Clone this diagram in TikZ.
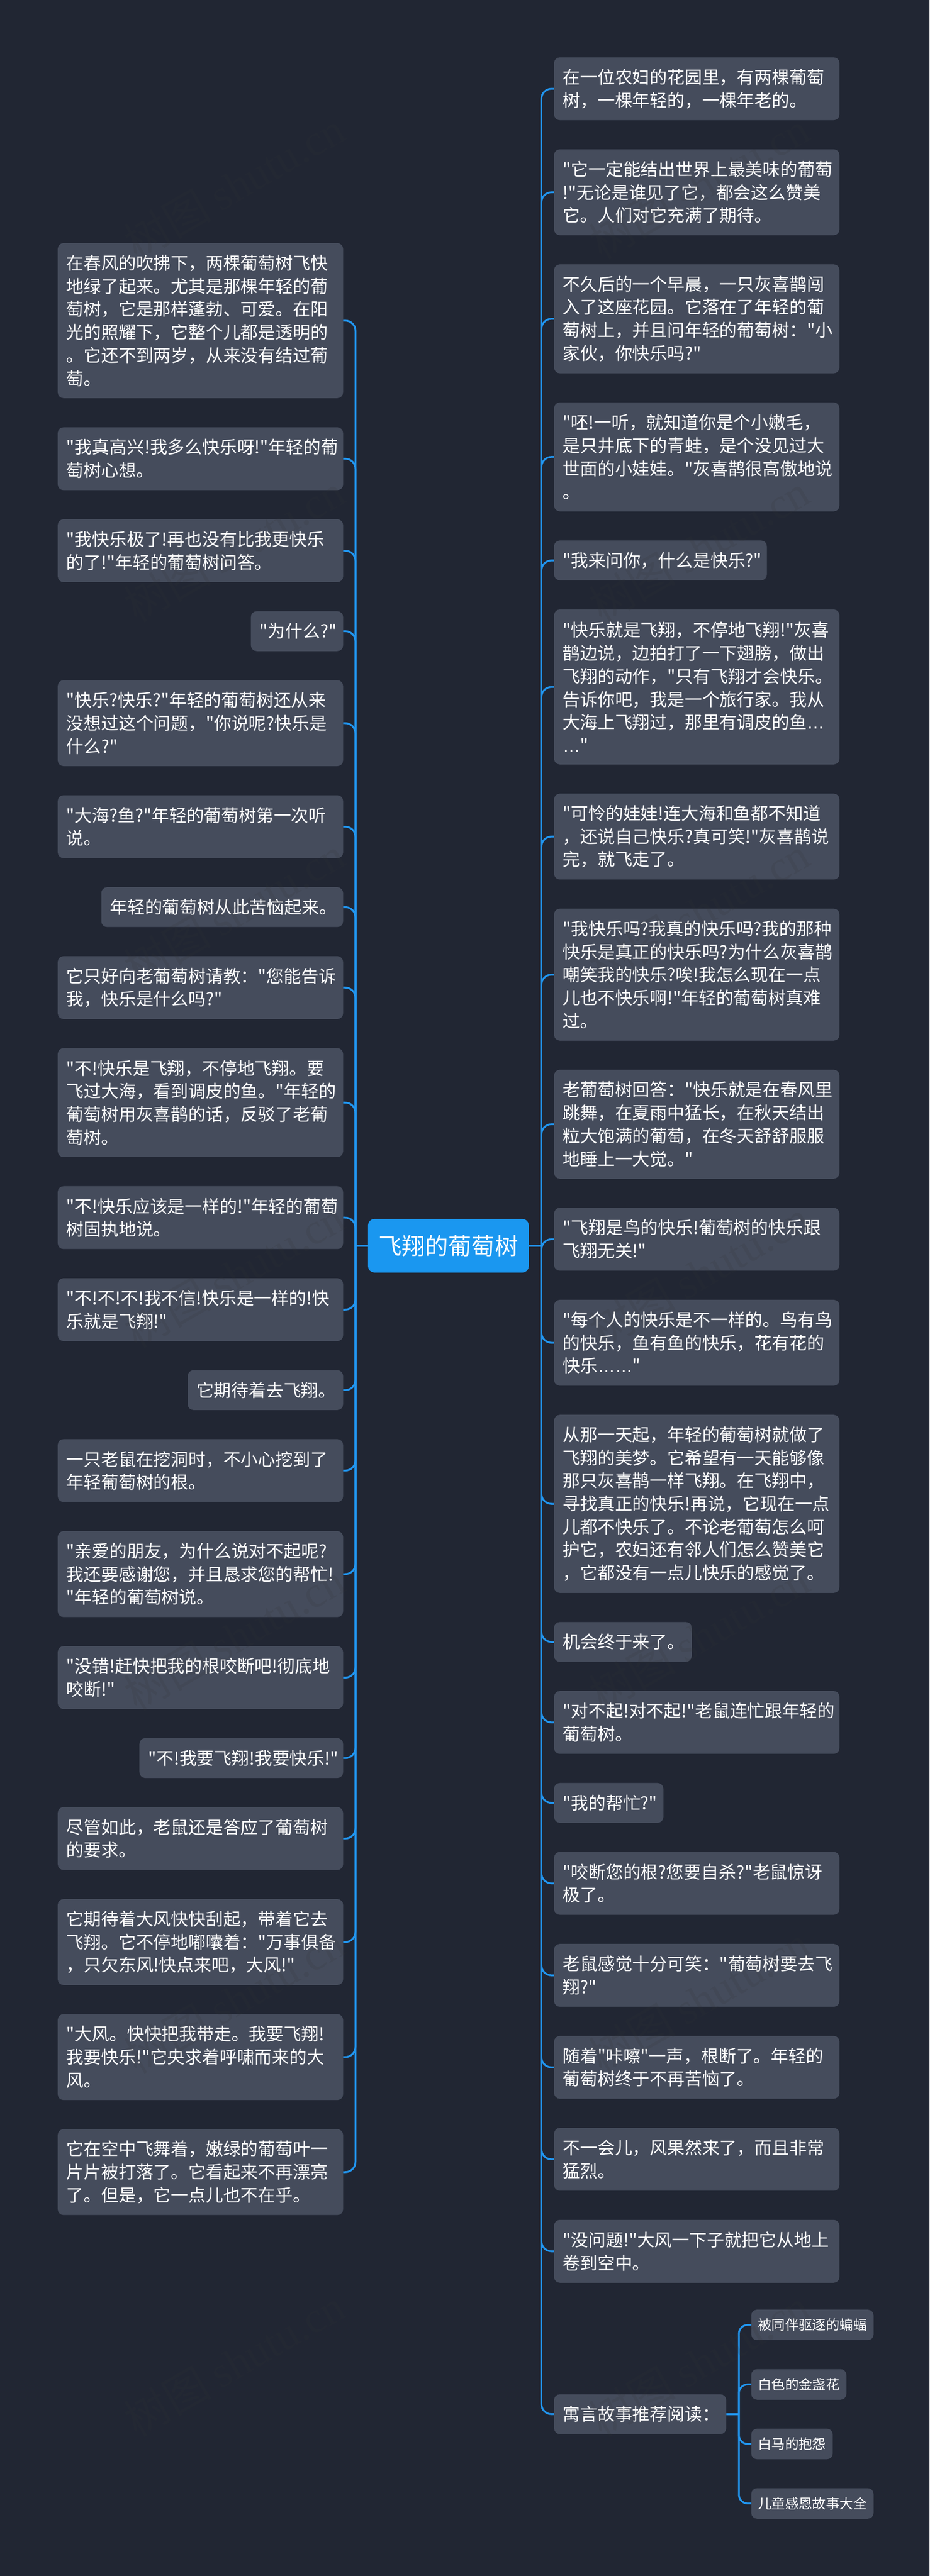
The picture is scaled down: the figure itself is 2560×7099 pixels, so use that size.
\documentclass[tikz,border=0pt]{standalone}
\usepackage{fontspec}
\usepackage{xcolor}
\usetikzlibrary{positioning}
\newfontfamily\zhfont{Noto Sans CJK SC}
\newfontfamily\latfont{Liberation Sans}
\newfontfamily\markfont{Liberation Serif}
\newcommand{\lowdots}{{\latfont …}}
\definecolor{pagebg}{HTML}{212633}
\definecolor{boxbg}{HTML}{454C5C}
\definecolor{rootbg}{HTML}{1A97F0}
\definecolor{linkblue}{HTML}{2196F0}
\definecolor{markgray}{HTML}{343434}
\hfuzz=60pt
\tikzset{
	leaf/.style={fill=boxbg,text=white,rounded corners=16pt,inner xsep=24pt,inner ysep=0pt,outer sep=0pt,
		font=\zhfont\fontsize{48}{63.5}\selectfont,align=left,text width=738pt,minimum height={46.25pt+63.5pt*#1}},
	short/.style={text width=#1},
	rnext/.style={below=80.25pt of #1.south west,anchor=north west},
	lnext/.style={below=80.25pt of #1.south east,anchor=north east},
	sub/.style={fill=boxbg,text=white,rounded corners=16pt,inner xsep=18.5pt,inner ysep=0pt,outer sep=0pt,
		font=\zhfont\fontsize{37.5}{50}\selectfont,minimum height=84pt,anchor=north west},
	subnext/.style={below=80pt of #1.south west,anchor=north west},
	rootbox/.style={fill=rootbg,text=white,rounded corners=18pt,outer sep=0pt,
		font=\zhfont\fontsize{64}{80}\selectfont,minimum width=443pt,minimum height=148pt},
	link/.style={draw=linkblue,line width=5pt},
	wmark/.style={text=markgray,opacity=.15,rotate=30,font=\fontsize{120}{120}\selectfont}
}
\begin{document}
\begin{tikzpicture}[x=1pt,y=-1pt]
	\fill[pagebg] (0,0) rectangle (2560,7099);
	\useasboundingbox (0,0) rectangle (2560,7099);
	\node[rootbox] (root) at (1235,3433) {飞翔的葡萄树};
	
	\node[leaf=6,anchor=north east] (l1) at (945,670) {在春风的吹拂下，两棵葡萄树飞快\\地绿了起来。尤其是那棵年轻的葡\\萄树，它是那样蓬勃、可爱。在阳\\光的照耀下，它整个儿都是透明的\\。它还不到两岁，从来没有结过葡\\萄。};
	\node[leaf=2,lnext=l1] (l2) {"我真高兴!我多么快乐呀!"年轻的葡\\萄树心想。};
	\node[leaf=2,lnext=l2] (l3) {"我快乐极了!再也没有比我更快乐\\的了!"年轻的葡萄树问答。};
	\node[leaf=1,short=206pt,lnext=l3] (l4) {"为什么?"};
	\node[leaf=3,lnext=l4] (l5) {"快乐?快乐?"年轻的葡萄树还从来\\没想过这个问题，"你说呢?快乐是\\什么?"};
	\node[leaf=2,lnext=l5] (l6) {"大海?鱼?"年轻的葡萄树第一次听\\说。};
	\node[leaf=1,short=618pt,lnext=l6] (l7) {年轻的葡萄树从此苦恼起来。};
	\node[leaf=2,lnext=l7] (l8) {它只好向老葡萄树请教："您能告诉\\我，快乐是什么吗?"};
	\node[leaf=4,lnext=l8] (l9) {"不!快乐是飞翔，不停地飞翔。要\\飞过大海，看到调皮的鱼。"年轻的\\葡萄树用灰喜鹊的话，反驳了老葡\\萄树。};
	\node[leaf=2,lnext=l9] (l10) {"不!快乐应该是一样的!"年轻的葡萄\\树固执地说。};
	\node[leaf=2,lnext=l10] (l11) {"不!不!不!我不信!快乐是一样的!快\\乐就是飞翔!"};
	\node[leaf=1,short=380pt,lnext=l11] (l12) {它期待着去飞翔。};
	\node[leaf=2,lnext=l12] (l13) {一只老鼠在挖洞时，不小心挖到了\\年轻葡萄树的根。};
	\node[leaf=3,lnext=l13] (l14) {"亲爱的朋友，为什么说对不起呢?\\我还要感谢您，并且恳求您的帮忙!\\"年轻的葡萄树说。};
	\node[leaf=2,lnext=l14] (l15) {"没错!赶快把我的根咬断吧!彻底地\\咬断!"};
	\node[leaf=1,short=513pt,lnext=l15] (l16) {"不!我要飞翔!我要快乐!"};
	\node[leaf=2,lnext=l16] (l17) {尽管如此，老鼠还是答应了葡萄树\\的要求。};
	\node[leaf=3,lnext=l17] (l18) {它期待着大风快快刮起，带着它去\\飞翔。它不停地嘟囔着："万事俱备\\，只欠东风!快点来吧，大风!"};
	\node[leaf=3,lnext=l18] (l19) {"大风。快快把我带走。我要飞翔!\\我要快乐!"它央求着呼啸而来的大\\风。};
	\node[leaf=3,lnext=l19] (l20) {它在空中飞舞着，嫩绿的葡萄叶一\\片片被打落了。它看起来不再漂亮\\了。但是，它一点儿也不在乎。};
	
	\node[leaf=2,anchor=north west] (r1) at (1526,158) {在一位农妇的花园里，有两棵葡萄\\树，一棵年轻的，一棵年老的。};
	\node[leaf=3,rnext=r1] (r2) {"它一定能结出世界上最美味的葡萄\\!"无论是谁见了它，都会这么赞美\\它。人们对它充满了期待。};
	\node[leaf=4,rnext=r2] (r3) {不久后的一个早晨，一只灰喜鹊闯\\入了这座花园。它落在了年轻的葡\\萄树上，并且问年轻的葡萄树："小\\家伙，你快乐吗?"};
	\node[leaf=4,rnext=r3] (r4) {"呸!一听，就知道你是个小嫩毛，\\是只井底下的青蛙，是个没见过大\\世面的小娃娃。"灰喜鹊很高傲地说\\。};
	\node[leaf=1,short=538pt,rnext=r4] (r5) {"我来问你，什么是快乐?"};
	\node[leaf=6,rnext=r5] (r6) {"快乐就是飞翔，不停地飞翔!"灰喜\\鹊边说，边拍打了一下翅膀，做出\\飞翔的动作，"只有飞翔才会快乐。\\告诉你吧，我是一个旅行家。我从\\大海上飞翔过，那里有调皮的鱼\lowdots\\\lowdots"};
	\node[leaf=3,rnext=r6] (r7) {"可怜的娃娃!连大海和鱼都不知道\\，还说自己快乐?真可笑!"灰喜鹊说\\完，就飞走了。};
	\node[leaf=5,rnext=r7] (r8) {"我快乐吗?我真的快乐吗?我的那种\\快乐是真正的快乐吗?为什么灰喜鹊\\嘲笑我的快乐?唉!我怎么现在一点\\儿也不快乐啊!"年轻的葡萄树真难\\过。};
	\node[leaf=4,rnext=r8] (r9) {老葡萄树回答："快乐就是在春风里\\跳舞，在夏雨中猛长，在秋天结出\\粒大饱满的葡萄，在冬天舒舒服服\\地睡上一大觉。"};
	\node[leaf=2,rnext=r9] (r10) {"飞翔是鸟的快乐!葡萄树的快乐跟\\飞翔无关!"};
	\node[leaf=3,rnext=r10] (r11) {"每个人的快乐是不一样的。鸟有鸟\\的快乐，鱼有鱼的快乐，花有花的\\快乐\lowdots\lowdots"};
	\node[leaf=7,rnext=r11] (r12) {从那一天起，年轻的葡萄树就做了\\飞翔的美梦。它希望有一天能够像\\那只灰喜鹊一样飞翔。在飞翔中，\\寻找真正的快乐!再说，它现在一点\\儿都不快乐了。不论老葡萄怎么呵\\护它，农妇还有邻人们怎么赞美它\\，它都没有一点儿快乐的感觉了。};
	\node[leaf=1,short=331pt,rnext=r12] (r13) {机会终于来了。};
	\node[leaf=2,rnext=r13] (r14) {"对不起!对不起!"老鼠连忙跟年轻的\\葡萄树。};
	\node[leaf=1,short=253pt,rnext=r14] (r15) {"我的帮忙?"};
	\node[leaf=2,rnext=r15] (r16) {"咬断您的根?您要自杀?"老鼠惊讶\\极了。};
	\node[leaf=2,rnext=r16] (r17) {老鼠感觉十分可笑："葡萄树要去飞\\翔?"};
	\node[leaf=2,rnext=r17] (r18) {随着"咔嚓"一声，根断了。年轻的\\葡萄树终于不再苦恼了。};
	\node[leaf=2,rnext=r18] (r19) {不一会儿，风果然来了，而且非常\\猛烈。};
	\node[leaf=2,rnext=r19] (r20) {"没问题!"大风一下子就把它从地上\\卷到空中。};
	\node[leaf=1,short=426pt,anchor=west] (r21) at (1526,6653) {寓言故事推荐阅读：};
	
	\node[sub] (s1) at (2069,6365) {被同伴驱逐的蝙蝠};
	\node[sub,subnext=s1] (s2) {白色的金盏花};
	\node[sub,subnext=s2] (s3) {白马的抱怨};
	\node[sub,subnext=s3] (s4) {儿童感恩故事大全};
	
	\coordinate (lspine) at (979,0);
	\coordinate (rspine) at (1491,0);
	\coordinate (sspine) at (2035,0);
	\draw[link] (root.west) -- (lspine |- root.west);
	\draw[link] (root.east) -- (rspine |- root.east);
	\draw[link] (r21.east) -- (sspine |- r21.east);
	\foreach \n in {1,...,20}
		\draw[link] (lspine |- root.west) [rounded corners=28pt] -- (lspine |- l\n.east) -- (l\n.east);
	\foreach \n in {1,...,21}
		\draw[link] (rspine |- root.east) [rounded corners=28pt] -- (rspine |- r\n.west) -- (r\n.west);
	\foreach \n in {1,...,4}
		\draw[link] (sspine |- r21.east) [rounded corners=24pt] -- (sspine |- s\n.west) -- (s\n.west);
	
	\foreach \i in {0,1}
		\foreach \j in {0,...,6}
			\node[wmark] (w\i\j) at (645+1280*\i,510+1000*\j) {\zhfont 树图 \markfont shutu.cn};
\end{tikzpicture}
\end{document}
